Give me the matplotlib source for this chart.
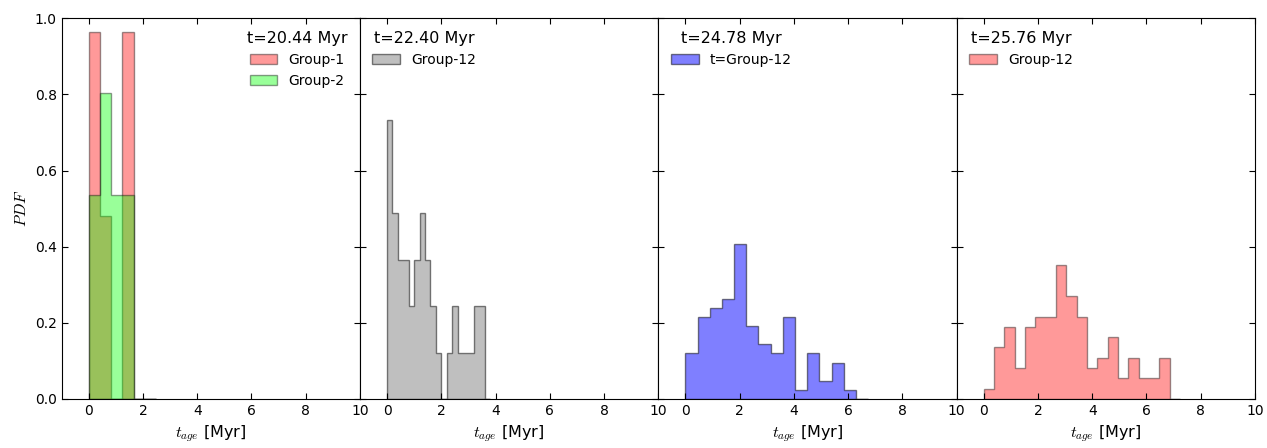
import numpy as np
import matplotlib
matplotlib.use('Agg')
import matplotlib.pyplot as plt

plt.rcParams['mathtext.fontset'] = 'cm'
plt.rcParams['xtick.direction'] = 'in'
plt.rcParams['ytick.direction'] = 'in'
plt.rcParams['xtick.top'] = True
plt.rcParams['ytick.right'] = True
plt.rcParams['xtick.major.size'] = 4
plt.rcParams['ytick.major.size'] = 4
plt.rcParams['xtick.labelsize'] = 10
plt.rcParams['ytick.labelsize'] = 10

# snapshot times
times = ['20.44', '22.40', '24.78', '25.76']

# histogram counts per bin (bins start at 0)
g1_width = 0.415
g1_counts = [2, 1, 0, 2, 0, 0]
g2_counts = [2, 3, 2, 2, 0, 0]

p2_width = 0.2
p2_counts = [6, 4, 3, 3, 2, 3, 4, 3, 2, 1, 0, 1, 2, 1, 1, 1, 2, 2, 0]

p3_width = 0.449
p3_counts = [5, 9, 10, 11, 17, 8, 6, 5, 9, 1, 5, 2, 4, 1, 0]

p4_width = 0.381
p4_counts = [1, 5, 7, 3, 7, 8, 8, 13, 10, 8, 3, 4, 6, 2, 4, 2, 2, 4, 0]


def hist_pdf(ax, width, counts, color, alpha, label):
    edges = width * np.arange(len(counts) + 1)
    centers = 0.5 * (edges[:-1] + edges[1:])
    ax.hist(centers, bins=edges, weights=counts, density=True,
            histtype='stepfilled', facecolor=color, edgecolor='k',
            linewidth=1, alpha=alpha, label=label)


fig, axes = plt.subplots(1, 4, figsize=(12.67, 4.48), dpi=100, sharey=True)
plt.subplots_adjust(left=0.0486, right=0.9905, bottom=0.1094, top=0.9592, wspace=0)

hist_pdf(axes[0], g1_width, g1_counts, 'red', 0.4, 'Group-1')
hist_pdf(axes[0], g1_width, g2_counts, 'lime', 0.4, 'Group-2')
hist_pdf(axes[1], p2_width, p2_counts, 'gray', 0.5, 'Group-12')
hist_pdf(axes[2], p3_width, p3_counts, 'blue', 0.5, 't=Group-12')
hist_pdf(axes[3], p4_width, p4_counts, 'red', 0.4, 'Group-12')

for i, ax in enumerate(axes):
    ax.set_xlim(-1, 10)
    ax.set_ylim(0, 1.0)
    ax.set_xticks([0, 2, 4, 6, 8, 10])
    ax.set_xlabel(r'$t_{age}$ [Myr]', fontsize=11.5)
    for s in ax.spines.values():
        s.set_color('k')
    loc = 'upper right' if i == 0 else 'upper left'
    ax.legend(loc=loc, frameon=False, fontsize=10, title='t=%s Myr' % times[i],
              title_fontsize=11.5)

axes[0].set_yticks([0.0, 0.2, 0.4, 0.6, 0.8, 1.0])
axes[0].set_ylabel(r'$PDF$', fontsize=11.5)

fig.savefig('out.png', dpi=100, facecolor='white')
